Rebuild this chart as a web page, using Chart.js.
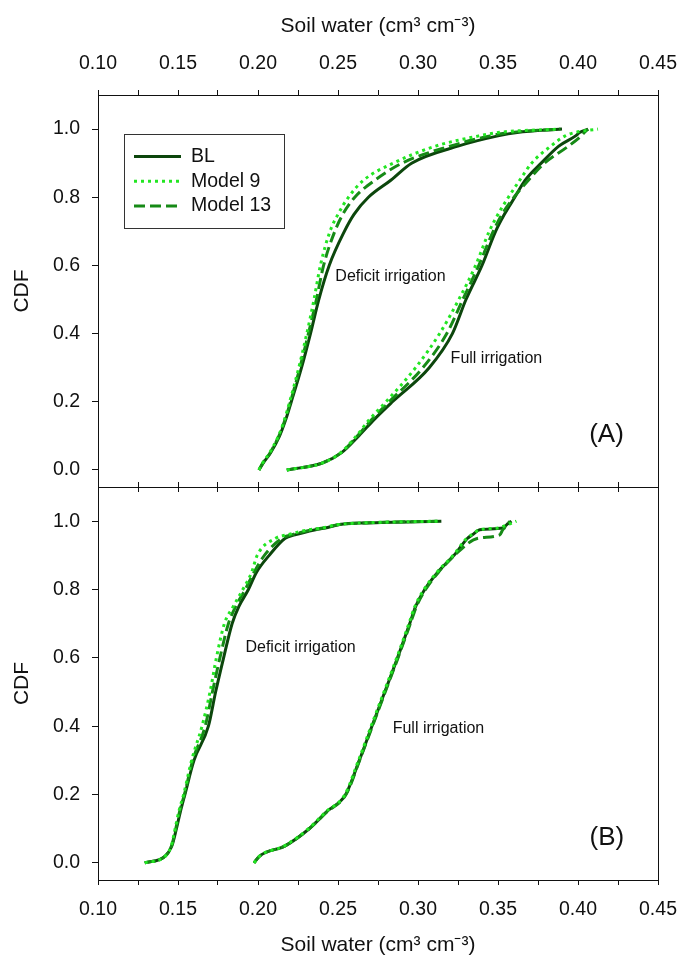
<!DOCTYPE html>
<html>
<head>
<meta charset="utf-8">
<script src="https://cdn.jsdelivr.net/npm/chart.js@4.4.1/dist/chart.umd.min.js"></script>
<style>
  html, body { margin: 0; padding: 0; background: #fff; }
  #wrap { position: relative; width: 681px; height: 965px; }
  .panel { position: absolute; left: 0; }
  #panelA { top: 0; }
  #panelB { top: 474px; }
</style>
</head>
<body>
<div id="wrap">
  <div class="panel" id="panelA"><canvas id="chartA" width="681" height="500"></canvas></div>
  <div class="panel" id="panelB"><canvas id="chartB" width="681" height="491"></canvas></div>
</div>
<script>
// CDF levels (y) for each panel
const cdfA = [0, 0.02, 0.05, 0.1, 0.15, 0.2, 0.3, 0.4, 0.5, 0.6, 0.7, 0.75, 0.8, 0.85, 0.9, 0.95, 0.98, 0.99, 1.0];
const cdfB = [0, 0.02, 0.05, 0.1, 0.15, 0.2, 0.3, 0.4, 0.5, 0.6, 0.7, 0.75, 0.8, 0.85, 0.9, 0.95, 0.96, 0.975, 0.98, 0.99, 0.995, 1.0];

// Soil water (cm3 cm-3) at each CDF level - panel A
const deficitA_BL  = [0.2006, 0.2032, 0.2078, 0.2135, 0.2175, 0.2208, 0.2272, 0.2328, 0.2380, 0.2445, 0.2540, 0.2600, 0.2690, 0.2830, 0.2960, 0.3250, 0.3500, 0.3620, 0.3900];
const deficitA_M9  = [0.2006, 0.2028, 0.2072, 0.2128, 0.2167, 0.2198, 0.2255, 0.2305, 0.2350, 0.2390, 0.2450, 0.2500, 0.2565, 0.2660, 0.2845, 0.3110, 0.3380, 0.3500, 0.3880];
const deficitA_M13 = [0.2006, 0.2030, 0.2075, 0.2131, 0.2171, 0.2203, 0.2262, 0.2315, 0.2365, 0.2410, 0.2480, 0.2530, 0.2605, 0.2730, 0.2900, 0.3200, 0.3450, 0.3580, 0.3890];
const fullA_BL  = [0.2180, 0.2400, 0.2520, 0.2630, 0.2730, 0.2840, 0.3070, 0.3215, 0.3300, 0.3400, 0.3485, 0.3540, 0.3605, 0.3670, 0.3770, 0.3880, 0.3985, 0.4010, 0.4063];
const fullA_M9  = [0.2180, 0.2400, 0.2515, 0.2615, 0.2700, 0.2800, 0.2985, 0.3135, 0.3255, 0.3360, 0.3445, 0.3500, 0.3565, 0.3636, 0.3710, 0.3830, 0.3920, 0.3980, 0.4125];
const fullA_M13 = [0.2180, 0.2400, 0.2518, 0.2622, 0.2715, 0.2820, 0.3030, 0.3180, 0.3280, 0.3380, 0.3470, 0.3525, 0.3600, 0.3690, 0.3790, 0.3940, 0.4020, 0.4040, 0.4063];

// panel B
const deficitB_BL  = [0.1292, 0.1420, 0.1462, 0.1490, 0.1515, 0.1543, 0.1600, 0.1690, 0.1735, 0.1785, 0.1838, 0.1880, 0.1940, 0.1990, 0.2070, 0.2170, 0.2230, 0.2360, 0.2420, 0.2511, 0.2677, 0.3146];
const deficitB_M9  = [0.1292, 0.1420, 0.1458, 0.1482, 0.1505, 0.1535, 0.1585, 0.1650, 0.1700, 0.1740, 0.1790, 0.1845, 0.1905, 0.1960, 0.1995, 0.2110, 0.2180, 0.2320, 0.2400, 0.2500, 0.2660, 0.3140];
const deficitB_M13 = [0.1292, 0.1420, 0.1460, 0.1486, 0.1510, 0.1540, 0.1592, 0.1670, 0.1715, 0.1762, 0.1815, 0.1860, 0.1920, 0.1975, 0.2040, 0.2150, 0.2210, 0.2340, 0.2410, 0.2505, 0.2670, 0.3146];
const fullB_BL  = [0.1975, 0.2010, 0.2170, 0.2320, 0.2430, 0.2548, 0.2633, 0.2712, 0.2792, 0.2872, 0.2948, 0.2985, 0.3042, 0.3122, 0.3225, 0.3310, 0.3340, 0.3386, 0.3530, 0.3555, 0.3570, 0.3584];
const fullB_M9  = [0.1975, 0.2010, 0.2165, 0.2315, 0.2425, 0.2543, 0.2628, 0.2707, 0.2787, 0.2867, 0.2943, 0.2980, 0.3037, 0.3117, 0.3220, 0.3305, 0.3335, 0.3386, 0.3500, 0.3560, 0.3590, 0.3615];
const fullB_M13 = [0.1975, 0.2010, 0.2170, 0.2320, 0.2432, 0.2550, 0.2635, 0.2715, 0.2795, 0.2875, 0.2952, 0.2990, 0.3047, 0.3127, 0.3228, 0.3375, 0.3511, 0.3530, 0.3540, 0.3555, 0.3565, 0.3575];

const seriesNames = ['BL', 'Model 9', 'Model 13'];
const soilTicks = [0.10, 0.15, 0.20, 0.25, 0.30, 0.35, 0.40, 0.45];
const cdfTicks = [0.0, 0.2, 0.4, 0.6, 0.8, 1.0];

const FONT = "'Liberation Sans', Arial, sans-serif";
Chart.defaults.font.family = FONT;
Chart.defaults.color = '#111';

const seriesStyles = [
  { borderColor: '#0c460c', borderWidth: 3, borderDash: [], order: 3 },
  { borderColor: '#22e622', borderWidth: 3, borderDash: [3, 4], order: 1 },
  { borderColor: '#168a16', borderWidth: 3, borderDash: [11, 5], order: 2 }
];

// minor ticks halfway between the labelled ones
const soilAll = [];
soilTicks.forEach((v, i) => {
  soilAll.push(v);
  if (i < soilTicks.length - 1) soilAll.push(+(v + 0.025).toFixed(3));
});
const isMajor = v => soilTicks.some(t => Math.abs(t - v) < 1e-6);

const toPoints = (xs, levels) => xs.map((x, i) => ({ x: x, y: levels[i] }));

function makeDatasets(levels, groups) {
  const out = [];
  groups.forEach(g => {
    g.forEach((xs, i) => {
      out.push(Object.assign({
        label: seriesNames[i],
        data: toPoints(xs, levels),
        showLine: true,
        pointRadius: 0,
        fill: false,
        cubicInterpolationMode: 'monotone',
        borderCapStyle: 'butt'
      }, seriesStyles[i]));
    });
  });
  return out;
}

// scales sometimes ask for room for their end labels; the frame here is fixed
const noPad = s => { s.paddingLeft = 0; s.paddingRight = 0; s.paddingTop = 0; s.paddingBottom = 0; };

const legendBox = {
  id: 'legendBox',
  afterDraw(chart, args, opts) {
    if (!opts.show) return;
    const { ctx, chartArea } = chart;
    const x0 = chartArea.left + 26, y0 = chartArea.top + 39;
    ctx.save();
    ctx.strokeStyle = '#333';
    ctx.lineWidth = 1;
    ctx.strokeRect(x0 + 0.5, y0 + 0.5, 160, 94);
    seriesNames.forEach((name, i) => {
      const st = seriesStyles[i];
      const y = y0 + 22.5 + i * 24.7;
      ctx.beginPath();
      ctx.setLineDash(st.borderDash);
      ctx.strokeStyle = st.borderColor;
      ctx.lineWidth = st.borderWidth;
      ctx.moveTo(x0 + 10, y);
      ctx.lineTo(x0 + 57, y);
      ctx.stroke();
      ctx.setLineDash([]);
      ctx.fillStyle = '#111';
      ctx.font = '19.5px ' + FONT;
      ctx.textBaseline = 'middle';
      ctx.textAlign = 'left';
      ctx.fillText(name, x0 + 67, y);
    });
    ctx.restore();
  }
};

const notes = {
  id: 'notes',
  afterDraw(chart, args, opts) {
    const { ctx, scales } = chart;
    ctx.save();
    ctx.fillStyle = '#111';
    ctx.textAlign = 'center';
    ctx.textBaseline = 'middle';
    (opts.items || []).forEach(n => {
      ctx.font = n.size + 'px ' + FONT;
      ctx.fillText(n.text, scales.x.getPixelForValue(n.x), scales.y.getPixelForValue(n.y));
    });
    ctx.restore();
  }
};

function buildOptions(panel) {
  const top = panel === 'A';
  const tickFont = { size: 19.5 };
  const xMain = {
    type: 'linear',
    position: top ? 'top' : 'bottom',
    min: 0.1, max: 0.45,
    afterBuildTicks: s => { s.ticks = soilAll.map(v => ({ value: v })); },
    afterFit: s => { s.height = top ? 95 : 85; noPad(s); },
    ticks: {
      autoSkip: false, maxRotation: 0, font: tickFont, color: '#111',
      padding: top ? 15 : 13,
      callback: v => isMajor(v) ? v.toFixed(2) : ''
    },
    grid: { drawOnChartArea: false, tickLength: 5, tickColor: '#111', tickWidth: 1 },
    border: { color: '#111', width: 1 },
    title: {
      display: true, text: 'Soil water (cm³ cm⁻³)', color: '#111',
      font: { size: 21 },
      padding: top ? { top: 14 } : { bottom: 7 }
    }
  };
  const xEdge = {
    type: 'linear',
    position: top ? 'bottom' : 'top',
    min: 0.1, max: 0.45,
    afterBuildTicks: s => { s.ticks = soilAll.map(v => ({ value: v })); },
    afterFit: s => { s.height = 13; noPad(s); },
    ticks: { display: false },
    grid: { drawOnChartArea: false, tickLength: 5, tickColor: '#111', tickWidth: 1 },
    border: { color: '#111', width: 1 }
  };
  return {
    responsive: false,
    animation: false,
    layout: { padding: 0 },
    scales: {
      x: xMain,
      xe: xEdge,
      y: {
        type: 'linear', position: 'left',
        min: -0.05, max: 1.1,
        afterBuildTicks: s => { s.ticks = cdfTicks.map(v => ({ value: v })); },
        afterFit: s => { s.width = 98; noPad(s); },
        ticks: { font: tickFont, color: '#111', padding: 12, callback: v => v.toFixed(1) },
        grid: { drawOnChartArea: false, tickLength: 6, tickColor: '#111', tickWidth: 1 },
        border: { color: '#111', width: 1 },
        title: { display: true, text: 'CDF', color: '#111', font: { size: 21 }, padding: { top: 10 } }
      },
      yr: {
        type: 'linear', position: 'right',
        min: -0.05, max: 1.1,
        afterFit: s => { s.width = 23; noPad(s); },
        ticks: { display: false },
        grid: { display: false },
        border: { color: '#111', width: 1 }
      }
    },
    plugins: {
      legend: { display: false },
      tooltip: { enabled: false },
      legendBox: { show: top },
      notes: {
        items: top ? [
          { text: 'Deficit irrigation', x: 0.2828, y: 0.566, size: 16 },
          { text: 'Full irrigation', x: 0.3490, y: 0.328, size: 16 },
          { text: '(A)', x: 0.4178, y: 0.104, size: 26 }
        ] : [
          { text: 'Deficit irrigation', x: 0.2266, y: 0.630, size: 16 },
          { text: 'Full irrigation', x: 0.3128, y: 0.394, size: 16 },
          { text: '(B)', x: 0.4180, y: 0.073, size: 26 }
        ]
      }
    }
  };
}

new Chart(document.getElementById('chartA'), {
  type: 'scatter',
  data: { datasets: makeDatasets(cdfA, [[deficitA_BL, deficitA_M9, deficitA_M13], [fullA_BL, fullA_M9, fullA_M13]]) },
  options: buildOptions('A'),
  plugins: [legendBox, notes]
});

new Chart(document.getElementById('chartB'), {
  type: 'scatter',
  data: { datasets: makeDatasets(cdfB, [[deficitB_BL, deficitB_M9, deficitB_M13], [fullB_BL, fullB_M9, fullB_M13]]) },
  options: buildOptions('B'),
  plugins: [legendBox, notes]
});
</script>
</body>
</html>
